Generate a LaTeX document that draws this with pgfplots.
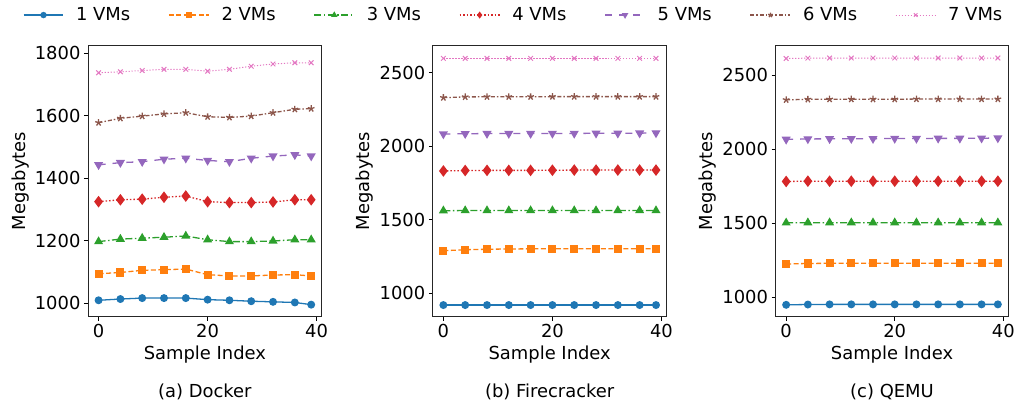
\documentclass[border=0pt]{standalone}
\usepackage{fontspec}
\setmainfont{DejaVu Sans}
\usepackage{pgfplots}
\pgfplotsset{compat=1.18}
\definecolor{c1}{HTML}{1F77B4}
\definecolor{c2}{HTML}{FF7F0E}
\definecolor{c3}{HTML}{2CA02C}
\definecolor{c4}{HTML}{D62728}
\definecolor{c5}{HTML}{9467BD}
\definecolor{c6}{HTML}{8C564B}
\definecolor{c7}{HTML}{E377C2}
\pgfplotsset{
  base/.style={
    scale only axis, width=234bp, height=272bp,
    anchor=south west, clip=false,
    xmin=-1.95, xmax=40.95,
    xtick={0,20,40},
    tick align=outside, xtick pos=left, ytick pos=left,
    major tick length=4bp,
    tick style={black, line width=0.7pt},
    axis line style={line width=0.7pt, black!85},
    /pgf/number format/assume math mode=true,
    /pgf/number format/set thousands separator={},
    ticklabel style={font=\fontsize{18}{20}\selectfont},
    label style={font=\fontsize{18}{20}\selectfont},
    xlabel={Sample Index}, ylabel={Megabytes},
    xlabel style={at={(axis description cs:0.5,-0.14)}, anchor=center},
    ylabel style={at={(axis description cs:-0.29,0.5)}, anchor=center},
    every axis plot/.append style={line width=1.3pt},
  },
  s1/.style={c1, solid, mark=*, mark size=3.3bp, mark options={solid}},
  s2/.style={c2, dash pattern=on 5bp off 2.5bp, mark=square*, mark size=3.4bp, mark options={solid}},
  s3/.style={c3, dash pattern=on 7bp off 2.5bp on 1.5bp off 2.5bp, mark=triangle*, mark size=4bp, mark options={solid}},
  s4/.style={c4, dash pattern=on 1.5bp off 2bp, mark=diamond*, mark size=4.8bp, mark options={solid}},
  s5/.style={c5, dash pattern=on 7bp off 7bp, mark=triangle*, mark size=4bp, mark options={solid, rotate=180}},
  s6/.style={c6, dash pattern=on 4bp off 2bp on 1.5bp off 2bp, mark=star, mark size=3.5bp, mark options={solid}},
  s7/.style={c7, dash pattern=on 1.2bp off 1.8bp, line width=1pt, mark=x, mark size=3.3bp, mark options={solid}},
}
\begin{document}
\begin{tikzpicture}[font=\fontsize{18}{20}\selectfont]
% (a) Docker
\begin{axis}[base, at={(0bp,0bp)},
  ymin=956, ymax=1827, ytick={1000,1200,1400,1600,1800},
  legend columns=7,
  legend style={draw=none, fill=none, at={(axis description cs:1.82,1.11)}, anchor=center,
    font=\fontsize{18}{20}\selectfont,
    /tikz/every odd column/.append style={column sep=10bp},
    /tikz/every even column/.append style={column sep=36bp}},
  legend image code/.code={\draw[mark repeat=2,mark phase=2,#1, mark size=2.5bp] plot coordinates {(0bp,0bp) (20bp,0bp) (40bp,0bp)};},
]
\addplot[s1] coordinates {(0,1009)(4,1013)(8,1016)(12,1016)(16,1016)(20,1011)(24,1009)(28,1006)(32,1004)(36,1002)(39,995)};
\addplot[s2] coordinates {(0,1094)(4,1098)(8,1105)(12,1107)(16,1109)(20,1091)(24,1087)(28,1087)(32,1090)(36,1091)(39,1087)};
\addplot[s3] coordinates {(0,1197)(4,1205)(8,1208)(12,1211)(16,1215)(20,1203)(24,1197)(28,1197)(32,1199)(36,1203)(39,1203)};
\addplot[s4] coordinates {(0,1325)(4,1331)(8,1333)(12,1339)(16,1343)(20,1325)(24,1322)(28,1322)(32,1324)(36,1331)(39,1331)};
\addplot[s5] coordinates {(0,1443)(4,1450)(8,1453)(12,1461)(16,1464)(20,1457)(24,1453)(28,1464)(32,1471)(36,1475)(39,1471)};
\addplot[s6] coordinates {(0,1578)(4,1592)(8,1599)(12,1606)(16,1610)(20,1597)(24,1595)(28,1599)(32,1610)(36,1621)(39,1623)};
\addplot[s7] coordinates {(0,1738)(4,1741)(8,1745)(12,1749)(16,1749)(20,1743)(24,1749)(28,1759)(32,1766)(36,1770)(39,1770)};
\legend{1 VMs,2 VMs,3 VMs,4 VMs,5 VMs,6 VMs,7 VMs}
\node at (axis description cs:0.5,-0.276) {(a) Docker};
\end{axis}
% (b) Firecracker
\begin{axis}[base, at={(345bp,0bp)},
  ymin=841, ymax=2688, ytick={1000,1500,2000,2500}]
\addplot[s1] coordinates {(0,921)(4,921)(8,921)(12,921)(16,921)(20,921)(24,921)(28,921)(32,921)(36,921)(39,921)};
\addplot[s2] coordinates {(0,1290)(4,1297)(8,1300)(12,1302)(16,1303)(20,1303)(24,1303)(28,1303)(32,1303)(36,1303)(39,1303)};
\addplot[s3] coordinates {(0,1562)(4,1563)(8,1563)(12,1563)(16,1563)(20,1563)(24,1563)(28,1563)(32,1563)(36,1563)(39,1563)};
\addplot[s4] coordinates {(0,1832)(4,1835)(8,1836)(12,1836)(16,1836)(20,1837)(24,1838)(28,1838)(32,1838)(36,1838)(39,1838)};
\addplot[s5] coordinates {(0,2083)(4,2085)(8,2086)(12,2086)(16,2086)(20,2087)(24,2087)(28,2088)(32,2088)(36,2089)(39,2090)};
\addplot[s6] coordinates {(0,2330)(4,2335)(8,2336)(12,2336)(16,2336)(20,2337)(24,2337)(28,2337)(32,2337)(36,2337)(39,2337)};
\addplot[s7] coordinates {(0,2597)(4,2597)(8,2597)(12,2597)(16,2597)(20,2597)(24,2597)(28,2597)(32,2597)(36,2597)(39,2597)};
\node at (axis description cs:0.5,-0.276) {(b) Firecracker};
\end{axis}
% (c) QEMU
\begin{axis}[base, at={(688bp,0bp)}, width=233bp,
  ymin=869, ymax=2703, ytick={1000,1500,2000,2500}]
\addplot[s1] coordinates {(0,950)(4,952)(8,953)(12,953)(16,953)(20,953)(24,953)(28,953)(32,953)(36,953)(39,953)};
\addplot[s2] coordinates {(0,1225)(4,1229)(8,1230)(12,1230)(16,1230)(20,1230)(24,1230)(28,1230)(32,1230)(36,1230)(39,1230)};
\addplot[s3] coordinates {(0,1503)(4,1504)(8,1504)(12,1504)(16,1504)(20,1504)(24,1504)(28,1504)(32,1504)(36,1504)(39,1504)};
\addplot[s4] coordinates {(0,1782)(4,1784)(8,1784)(12,1784)(16,1784)(20,1784)(24,1784)(28,1784)(32,1784)(36,1784)(39,1784)};
\addplot[s5] coordinates {(0,2066)(4,2069)(8,2070)(12,2071)(16,2071)(20,2072)(24,2072)(28,2073)(32,2073)(36,2074)(39,2075)};
\addplot[s6] coordinates {(0,2333)(4,2336)(8,2337)(12,2337)(16,2337)(20,2337)(24,2338)(28,2338)(32,2338)(36,2338)(39,2338)};
\addplot[s7] coordinates {(0,2612)(4,2614)(8,2615)(12,2615)(16,2615)(20,2615)(24,2615)(28,2615)(32,2615)(36,2615)(39,2615)};
\node at (axis description cs:0.5,-0.276) {(c) QEMU};
\end{axis}
\useasboundingbox (-88bp,-89bp) rectangle (930bp,317bp);
\end{tikzpicture}
\end{document}
